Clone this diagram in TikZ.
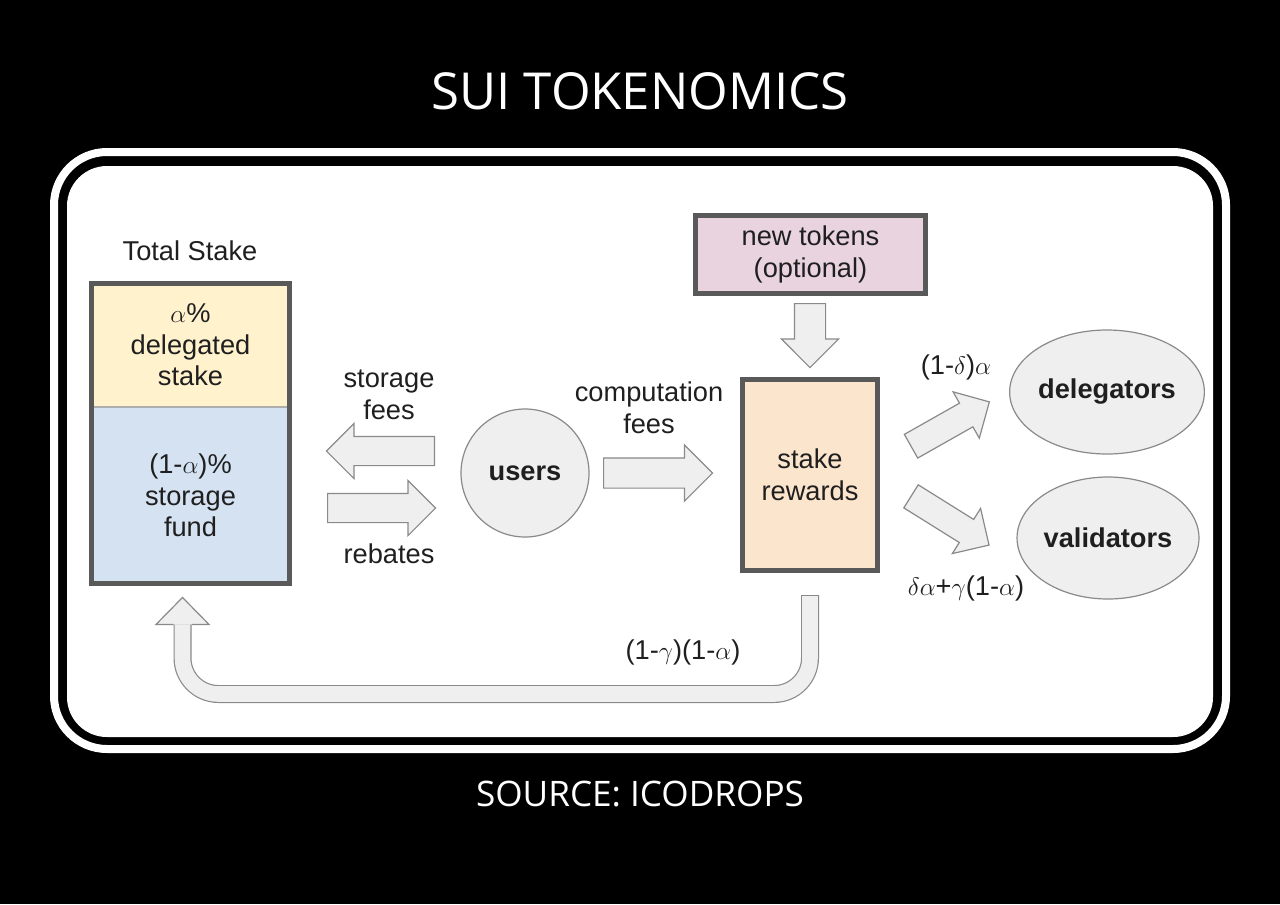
\documentclass[tikz,border=0pt]{standalone}
\usepackage{fontspec}
\setmainfont{Liberation Sans}
\newfontfamily\headfont{Open Sans}
\usepackage{xcolor}
\usetikzlibrary{positioning,fit,shapes.geometric,shapes.arrows}

\newdimen\px \px=0.02cm

\definecolor{ink}{HTML}{1F1F1F}
\definecolor{frame}{HTML}{595959}
\definecolor{dlgfill}{HTML}{FFF2CC}
\definecolor{fndfill}{HTML}{D5E2F2}
\definecolor{newfill}{HTML}{E8D3DE}
\definecolor{rwdfill}{HTML}{FBE5CD}
\definecolor{lgray}{HTML}{EFEFEF}
\definecolor{mgray}{HTML}{8A8A8A}

\begin{document}
\begin{tikzpicture}[
  x=0.02cm, y=-0.02cm,
  font=\fontsize{15.5}{18}\selectfont,
  txt/.style={align=center, text=ink, inner sep=0pt},
  part/.style={draw=mgray!70, line width=0.8*\px, align=center, text=ink, minimum width=198*\px, inner sep=0pt},
  heavy/.style={draw=frame, line width=5*\px, align=center, text=ink, inner sep=0pt},
  blob/.style={draw=mgray, line width=1.2*\px, fill=lgray, align=center, text=ink, font=\fontsize{15.5}{18}\selectfont\bfseries, inner sep=0pt},
  blk/.style={single arrow, draw=mgray, fill=lgray, line width=1.2*\px, inner sep=0pt, inner ysep=14*\px, single arrow head extend=13*\px, minimum height=108*\px, anchor=tail},
  uout/.style={draw=mgray, line width=18*\px, rounded corners=36*\px},
  uin/.style={draw=lgray, line width=15.6*\px, rounded corners=36*\px},
]
% page and frame
\fill[black] (0,0) rectangle (1280,904);
\useasboundingbox (0,0) rectangle (1280,904);
\draw[white, line width=8*\px, rounded corners=53*\px] (54,152) rectangle (1226,749);
\fill[white, rounded corners=40*\px] (67,166) rectangle (1213,737);

\node[font=\headfont\fontsize{29}{34}\selectfont, text=white] (ttl) at (640,91) {SUI TOKENOMICS};
\node[font=\headfont\fontsize{20}{24}\selectfont, text=white] (src) at (640,794) {SOURCE: ICODROPS};

% total stake column
\node[txt] (tot) at (190,251) {Total Stake};
\node[part, fill=dlgfill, minimum height=122.5*\px] (dlg) at (190.5,345) {$\alpha$\%\\delegated\\stake};
\node[part, fill=fndfill, minimum height=176.5*\px, below=0pt of dlg] (fnd) {(1-$\alpha$)\%\\storage\\fund};
\node[heavy, fit=(dlg)(fnd)] (stk) {};

% users and fees
\node[blob, circle, minimum size=128*\px] (usr) at (525,473) {users};
\node[blk, rotate=180] (sfee) at (435,451) {};
\node[blk] (rbt) at (327,508) {};
\node[txt] (sflbl) at (389,395) {storage\\fees};
\node[txt] (rblbl) at (389,554) {rebates};
\node[blk, inner ysep=14.5*\px, minimum height=109*\px] (cfee) at (603,473) {};
\node[txt] (cflbl) at (649,408) {computation\\fees};

% rewards
\node[heavy, fill=newfill, minimum width=230*\px, minimum height=78*\px] (new) at (810.5,254.5) {new tokens\\(optional)};
\node[blk, rotate=-90, inner ysep=15*\px, minimum height=64*\px] (nwa) at (810,303) {};
\node[heavy, fill=rwdfill, minimum width=135*\px, minimum height=191*\px] (rwd) at (810,475) {stake\\rewards};

\node[blob, ellipse, minimum width=164*\px, minimum height=124*\px] (dlgr) at (1107,392) {delegators};
\node[blob, ellipse, minimum width=166*\px, minimum height=122*\px] (vald) at (1108,538) {validators};
\node[blk, rotate=29.5, inner ysep=13*\px, minimum height=90*\px] (toD) at (910.5,446.5) {};
\node[blk, rotate=-32, inner ysep=13*\px, minimum height=92*\px] (toV) at (910.5,496) {};
\node[txt] (dlbl) at (956,367) {(1-$\delta$)$\alpha$};
\node[txt] (vlbl) at (966,588) {$\delta\alpha$+$\gamma$(1-$\alpha$)};

% return flow to the storage fund
\coordinate (uend) at ([xshift=-8*\px,yshift=-38*\px]stk.south);
\draw[uout] ([yshift=-22*\px]rwd.south) -- ++(0,99) -| (uend);
\draw[uin] ([yshift=-23*\px]rwd.south) -- ++(0,98) -| (uend);
\fill[lgray] (uend) ++(-26.5,0) -- ++(26.5,-27) -- ++(26.5,27) -- cycle;
\draw[mgray, line width=1.2*\px] (uend) ++(-9,0) -- ++(-17.5,0) -- ++(26.5,-27) -- ++(26.5,27) -- ++(-17.5,0);
\node[txt] (ulbl) at (683,652) {(1-$\gamma$)(1-$\alpha$)};
\end{tikzpicture}
\end{document}
